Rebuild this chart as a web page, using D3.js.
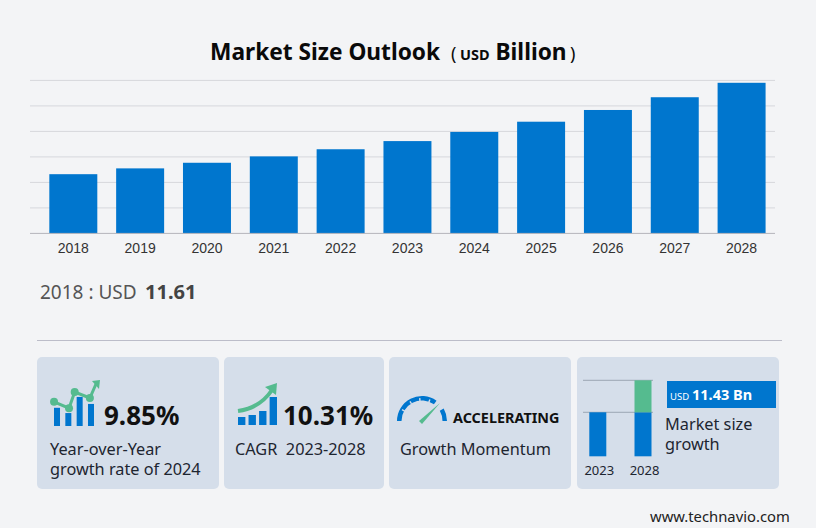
<!DOCTYPE html>
<html>
<head>
<meta charset="utf-8">
<script src="https://cdnjs.cloudflare.com/ajax/libs/d3/7.8.5/d3.min.js"></script>
<style>
  html, body { margin: 0; padding: 0; background: #f3f4f6; }
  svg { display: block; }
  text { font-family: "Noto Sans", "Open Sans", sans-serif; }
</style>
</head>
<body>
<div id="grafico"></div>
<script>
// dados do grafico
const years = ["2018","2019","2020","2021","2022","2023","2024","2025","2026","2027","2028"]
const sizes = [11.61, 12.75, 13.85, 15.1, 16.5, 18.1, 19.9, 21.9, 24.2, 26.7, 29.53]
const gridTicks = [0, 5, 10, 15, 20, 25, 30]

// icones e mini grafico
const yoyBars = [5.2, 3.7, 8.3, 6.3]
const yoyLine = [[-0.26, 6.9], [1.06, 5.1], [1.56, 9.7], [2.9, 8]]
const cagrBars = [2, 2.5, 3.5, 7]
const miniYears = ["2023", "2028"]
const miniBase = [18.1, 18.1]
const miniGrowth = [0, 13.16]  // esquematico, nao proporcional aos 11.43

const blue = "#0076ce", green = "#55bb8f", card = "#d5deea", ink = "#111"

const svg = d3.select("#grafico").append("svg")
    .attr("width", 816).attr("height", 528)

// titulo
const title = svg.append("text").attr("y", 60).attr("fill", "#0a0a0a")
    .attr("font-weight", 700).attr("font-size", 22.7)
title.append("tspan").attr("x", 210).text("Market Size Outlook")
title.append("tspan").attr("x", 451).attr("font-weight", 400).attr("font-size", 18).text("(")
title.append("tspan").attr("x", 460).attr("font-size", 14.5).text("USD")
title.append("tspan").attr("x", 495.5).text("Billion")
title.append("tspan").attr("x", 570).attr("font-weight", 400).attr("font-size", 18).text(")")

// escalas
const x = d3.scaleBand().domain(years).range([39.9, 775]).paddingInner(0.282).paddingOuter(0.141)
const y = d3.scaleLinear().domain([0, 30]).range([233.4, 80.4])

// grade
svg.append("g").selectAll("line").data(gridTicks.slice(1)).join("line")
    .attr("x1", 30).attr("x2", 775)
    .attr("y1", d => y(d)).attr("y2", d => y(d))
    .attr("stroke", "#d6d7dc").attr("stroke-width", 1)

// barras
svg.append("g").selectAll("rect").data(sizes).join("rect")
    .attr("x", (d, i) => x(years[i]))
    .attr("y", d => y(d))
    .attr("width", x.bandwidth())
    .attr("height", d => y(0) - y(d))
    .attr("fill", blue)

// eixo x
const xAxis = svg.append("g").attr("transform", "translate(0,233.4)")
    .call(d3.axisBottom(x).tickSize(0).tickPadding(10))
xAxis.select(".domain").remove()
xAxis.append("line").attr("x1", 30).attr("x2", 775).attr("stroke", "#b4b5bb")
xAxis.selectAll("text")
    .style("font-family", "'Liberation Sans', Arial, sans-serif")
    .attr("font-size", 14).attr("fill", "#333")

// valor do primeiro ano
const first = svg.append("text").attr("x", 40).attr("y", 299).attr("font-size", 19).attr("fill", "#555")
first.append("tspan").text("2018 : USD")
first.append("tspan").attr("x", 145).attr("font-weight", 700).attr("font-size", 20).attr("fill", "#444").text("11.61")

svg.append("line").attr("x1", 37).attr("x2", 782).attr("y1", 340.5).attr("y2", 340.5)
    .attr("stroke", "#bcbdc9").attr("stroke-width", 1)

// cartoes
const cardX = [37, 224, 389, 577]
const cardW = [182, 160, 182, 202]
svg.append("g").selectAll("rect").data(cardX).join("rect")
    .attr("x", d => d).attr("y", 357)
    .attr("width", (d, i) => cardW[i]).attr("height", 132)
    .attr("rx", 5).attr("fill", card)

function bigNumber(px, label) {
    svg.append("text").attr("x", px).attr("y", 425).attr("font-size", 26)
        .attr("font-weight", 700).attr("fill", ink).text(label)
}
function caption(px, py, label) {
    svg.append("text").attr("x", px).attr("y", py).attr("font-size", 16.3)
        .attr("fill", "#1d2530").text(label)
}

// cartao 1
const yoyX = d3.scaleBand().domain(d3.range(4)).range([54, 94]).paddingInner(0.47)
const yoyY = d3.scaleLinear().domain([0, 10]).range([426, 391])
const yoyLx = d3.scaleLinear().domain([0, 3]).range([57, 91])
svg.append("g").selectAll("rect").data(yoyBars).join("rect")
    .attr("x", (d, i) => yoyX(i)).attr("y", d => yoyY(d))
    .attr("width", yoyX.bandwidth()).attr("height", d => yoyY(0) - yoyY(d))
    .attr("fill", blue)
const yoyPts = yoyLine.map(d => [yoyLx(d[0]), yoyY(d[1])])
svg.append("path").attr("d", d3.line()(yoyPts.concat([[96, 384]])))
    .attr("fill", "none").attr("stroke", green).attr("stroke-width", 3)
svg.append("g").selectAll("circle").data(yoyPts).join("circle")
    .attr("cx", d => d[0]).attr("cy", d => d[1]).attr("r", 4).attr("fill", green)
svg.append("path").attr("d", "M92,381 L100,380 L99,389 Z").attr("fill", green)
bigNumber(104, "9.85%")
caption(50, 455, "Year-over-Year")
caption(50, 475, "growth rate of 2024")

// cartao 2
const cagrX = d3.scaleBand().domain(d3.range(4)).range([238, 277]).paddingInner(0.3)
const cagrY = d3.scaleLinear().domain([0, 10]).range([425, 385])
svg.append("g").selectAll("rect").data(cagrBars).join("rect")
    .attr("x", (d, i) => cagrX(i)).attr("y", d => cagrY(d))
    .attr("width", cagrX.bandwidth()).attr("height", d => cagrY(0) - cagrY(d))
    .attr("fill", blue)
svg.append("path").attr("d", "M238,411 Q260,408 272,390")
    .attr("fill", "none").attr("stroke", green).attr("stroke-width", 4)
svg.append("path").attr("d", "M265,387 L277,383 L276,395 Z").attr("fill", green)
bigNumber(283, "10.31%")
svg.append("text").attr("x", 235).attr("y", 455).attr("font-size", 16.3).attr("fill", "#1d2530")
    .attr("xml:space", "preserve").style("white-space", "pre").text("CAGR  2023-2028")

// cartao 3, medidor
const arc = d3.arc().innerRadius(20.5).outerRadius(25)
const gauge = svg.append("g").attr("transform", "translate(422,421)")
gauge.append("path").attr("fill", blue)
    .attr("d", arc({ startAngle: -1.57, endAngle: 0.62 }))
gauge.append("path").attr("fill", blue)
    .attr("d", arc({ startAngle: 1.05, endAngle: 1.57 }))
gauge.selectAll("line.tick").data([-1.05, -0.55, -0.1, 0.35]).join("line")
    .attr("x1", d => 20 * Math.sin(d)).attr("y1", d => -20 * Math.cos(d))
    .attr("x2", d => 23 * Math.sin(d)).attr("y2", d => -23 * Math.cos(d))
    .attr("stroke", card).attr("stroke-width", 1.4)
svg.append("path").attr("d", "M419,421 L422,424 L440,403 Z").attr("fill", green)
svg.append("text").attr("x", 453).attr("y", 423).attr("font-size", 14.4)
    .attr("font-weight", 700).attr("fill", ink).text("ACCELERATING")
caption(400, 455, "Growth Momentum")

// cartao 4, mini grafico
const miniX = d3.scaleBand().domain(miniYears).range([589.3, 651.5]).paddingInner(0.624)
const miniY = d3.scaleLinear().domain([0, 31.26]).range([456.3, 380.3])
svg.append("g").selectAll("line").data([18.1, 31.26]).join("line")
    .attr("x1", 583).attr("x2", 653)
    .attr("y1", d => miniY(d)).attr("y2", d => miniY(d))
    .attr("stroke", "#9ba6b3")
svg.append("g").selectAll("rect").data(miniBase).join("rect")
    .attr("x", (d, i) => miniX(miniYears[i])).attr("y", d => miniY(d))
    .attr("width", miniX.bandwidth()).attr("height", d => miniY(0) - miniY(d))
    .attr("fill", blue)
svg.append("g").selectAll("rect").data(miniGrowth).join("rect")
    .attr("x", (d, i) => miniX(miniYears[i])).attr("y", (d, i) => miniY(miniBase[i] + d))
    .attr("width", miniX.bandwidth()).attr("height", d => miniY(0) - miniY(d))
    .attr("fill", green)
svg.append("g").selectAll("text").data(miniYears).join("text")
    .attr("x", d => miniX(d) + miniX.bandwidth() / 2 + 1.5).attr("y", 475)
    .attr("text-anchor", "middle").attr("font-size", 13).attr("fill", "#1d2530").text(d => d)

svg.append("rect").attr("x", 667).attr("y", 381).attr("width", 109).attr("height", 27).attr("fill", blue)
const badge = svg.append("text").attr("y", 400).attr("fill", "#fff").attr("font-weight", 700)
badge.append("tspan").attr("x", 670).attr("font-size", 9.5).attr("font-weight", 400).text("USD")
badge.append("tspan").attr("x", 692).attr("font-size", 14.5).text("11.43 Bn")
caption(665, 430, "Market size")
caption(665, 450, "growth")

svg.append("text").attr("x", 650).attr("y", 522).attr("font-size", 14.8)
    .attr("fill", "#222").text("www.technavio.com")
</script>
</body>
</html>
